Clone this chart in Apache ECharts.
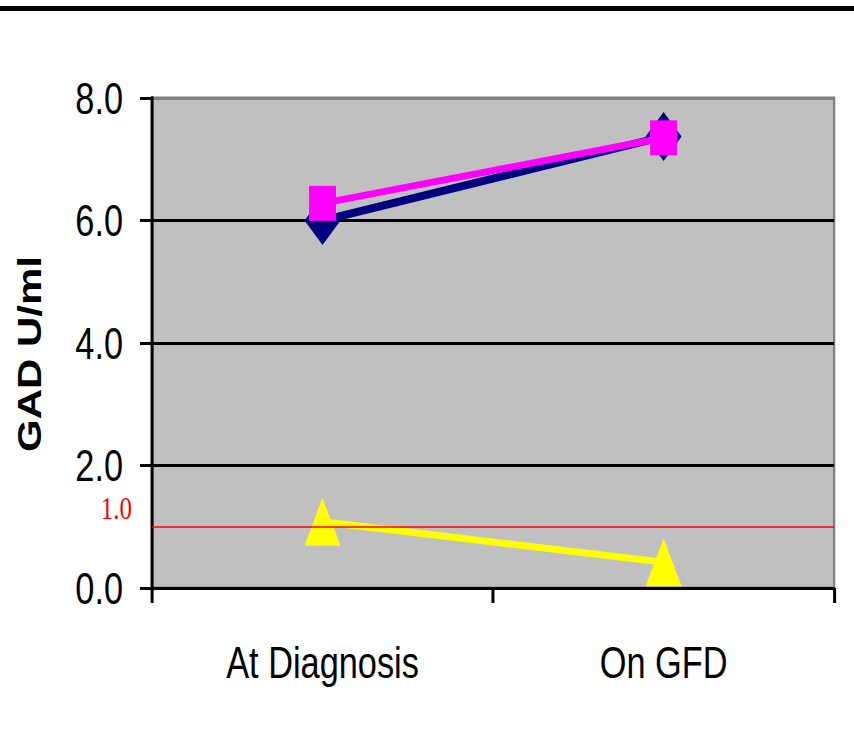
<!DOCTYPE html>
<html>
<head>
<meta charset="utf-8">
<script src="https://cdn.jsdelivr.net/npm/echarts@6/dist/echarts.min.js"></script>
<style>
  html, body { margin: 0; padding: 0; background: #fff; overflow: hidden; }
  #wrap { width: 854px; height: 746px; overflow: hidden; position: relative; }
  #chart { position: absolute; left: 0; top: 0; height: 746px; transform-origin: 0 0; }
</style>
</head>
<body>
<div id="wrap"><div id="chart"></div></div>
<script>
// Timepoints on the x axis
const categories = ['At Diagnosis', 'On GFD'];

// GAD antibody levels (U/ml) per group
const diamondValues = [6.0, 7.37];
const squareValues = [6.28, 7.35];
const triangleValues = [1.08, 0.42];

// Reference cut-off
const cutoffValue = 1.0;
const cutoffLabel = '1.0';

// Y-axis range and step
const yMin = 0;
const yMax = 8;
const yStep = 2;

// The chart is laid out wider and squeezed horizontally so the text
// gets the narrow, condensed look of the original typeface.
const SX = 0.78;
const W = 854, H = 746;
const el = document.getElementById('chart');
el.style.width = (W / SX) + 'px';
el.style.transform = 'scaleX(' + SX + ')';
const px = v => v / SX;   // horizontal screen pixels -> layout pixels

const sansFont = "'Liberation Sans', Arial, sans-serif";

const chart = echarts.init(el, null, { renderer: 'svg' });

chart.setOption({
  animation: false,
  backgroundColor: '#ffffff',
  graphic: [
    { type: 'rect', left: 0, top: 6, shape: { width: px(W), height: 5 }, style: { fill: '#000000' } }
  ],
  grid: {
    left: px(152), right: px(20), top: 98, bottom: 158,
    containLabel: false,
    outerBoundsMode: 'none',
    show: true,
    backgroundColor: '#C0C0C0',
    borderColor: '#808080',
    borderWidth: 3
  },
  xAxis: {
    type: 'category',
    data: categories,
    boundaryGap: true,
    axisLine: { lineStyle: { color: '#000000', width: 3 } },
    axisTick: { show: true, length: 15, lineStyle: { color: '#000000', width: px(3) } },
    axisLabel: { color: '#000000', fontFamily: sansFont, fontSize: 44, margin: 52 },
    splitLine: { show: false }
  },
  yAxis: {
    type: 'value',
    min: yMin, max: yMax, interval: yStep,
    name: 'GAD U/ml',
    nameLocation: 'middle',
    nameGap: px(106),
    nameTextStyle: {
      color: '#000000', fontFamily: sansFont, fontWeight: 'bold', fontSize: 42,
      padding: [0, 22, 0, 0]
    },
    axisLine: { show: true, lineStyle: { color: '#000000', width: px(3) } },
    axisTick: { show: true, length: px(12), lineStyle: { color: '#000000', width: 3 } },
    axisLabel: {
      color: '#000000', fontFamily: sansFont, fontSize: 44, margin: px(29),
      formatter: v => v.toFixed(1)
    },
    splitLine: { show: true, lineStyle: { color: ['#000000', '#000000', '#000000', '#000000', '#808080'], width: 3 } }
  },
  series: [
    {
      name: 'Diamond',
      type: 'line',
      data: diamondValues,
      symbol: 'diamond',
      symbolSize: [px(36), 49],
      itemStyle: { color: '#000080' },
      lineStyle: { color: '#000080', width: 8 },
      z: 2
    },
    {
      name: 'Square',
      type: 'line',
      data: squareValues,
      symbol: 'rect',
      symbolSize: [px(27), 35],
      itemStyle: { color: '#FF00FF' },
      lineStyle: { color: '#FF00FF', width: 7 },
      z: 3
    },
    {
      name: 'Triangle',
      type: 'line',
      data: triangleValues,
      symbol: 'triangle',
      symbolSize: [px(36), 48],
      itemStyle: { color: '#FFFF00' },
      lineStyle: { color: '#FFFF00', width: 7 },
      z: 4,
      markLine: {
        silent: true,
        symbol: ['none', 'none'],
        lineStyle: { color: '#FF0000', width: 1.5, type: 'solid' },
        label: {
          show: true,
          position: 'start',
          formatter: cutoffLabel,
          color: '#FF0000',
          fontFamily: "'Liberation Serif', 'Times New Roman', serif",
          fontSize: 32,
          distance: px(20),
          offset: [0, -19]
        },
        data: [{ yAxis: cutoffValue }]
      }
    }
  ]
});
</script>
</body>
</html>
